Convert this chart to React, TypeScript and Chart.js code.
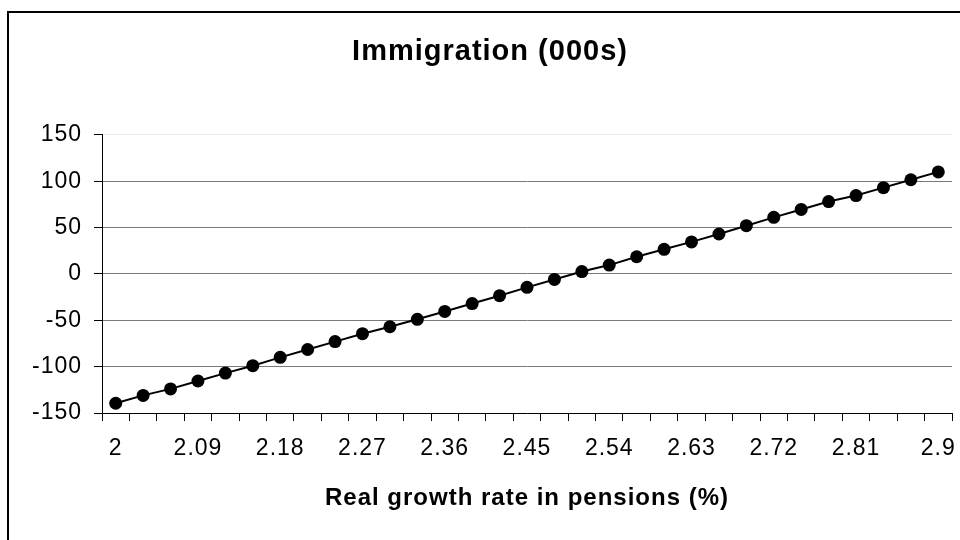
import React, { useEffect, useRef } from "react";
import { Chart, registerables } from "chart.js";

Chart.register(...registerables);

const categories: string[] = [
  "2", "2.03", "2.06", "2.09", "2.12", "2.15", "2.18", "2.21", "2.24", "2.27", "2.3",
  "2.33", "2.36", "2.39", "2.42", "2.45", "2.48", "2.51", "2.54", "2.57", "2.6",
  "2.63", "2.66", "2.69", "2.72", "2.75", "2.78", "2.81", "2.84", "2.87", "2.9",
];

const immigration: number[] = [
  -139.5, -131, -124, -115.5, -107, -99, -90, -81.5, -73, -64.5, -57,
  -49, -40.5, -32, -23.5, -14.5, -6, 2.5, 9.5, 18.5, 26.5,
  34.5, 43, 52, 61, 69.5, 78, 84.5, 93, 101.5, 110,
];

const shownTickLabels: string[] = [
  "2", "2.09", "2.18", "2.27", "2.36", "2.45", "2.54", "2.63", "2.72", "2.81", "2.9",
];

const yMin = -150;
const yMax = 150;
const yStep = 50;

const titleText = "Immigration (000s)";
const xTitleText = "Real growth rate in pensions (%)";

const FONT = "'Liberation Sans', Arial, Helvetica, sans-serif";

const spacingPlugin = {
  id: "letterSpacing",
  beforeUpdate(chart: any) {
    chart.ctx.letterSpacing = "1px";
  },
  beforeLayout(chart: any) {
    chart.ctx.letterSpacing = "1px";
  },
  beforeDraw(chart: any) {
    chart.ctx.letterSpacing = "1px";
  },
};

export default function App() {
  const ref = useRef<HTMLCanvasElement | null>(null);

  useEffect(() => {
    if (!ref.current) return;
    const chart = new Chart(ref.current, {
      type: "line",
      data: {
        labels: categories,
        datasets: [
          {
            label: "Immigration",
            data: immigration,
            borderColor: "#000000",
            backgroundColor: "#000000",
            borderWidth: 2,
            pointRadius: 6.5,
            pointBackgroundColor: "#000000",
            pointBorderColor: "#000000",
            pointBorderWidth: 0,
            tension: 0,
          },
        ],
      },
      plugins: [spacingPlugin],
      options: {
        responsive: false,
        animation: false,
        layout: { padding: { left: 28, right: 8, top: 0, bottom: 0 } },
        plugins: {
          legend: { display: false },
          tooltip: { enabled: false },
          title: {
            display: true,
            text: titleText,
            color: "#000000",
            font: { family: FONT, size: 29, weight: "bold" },
            padding: { top: 35, bottom: 65 },
          },
        },
        scales: {
          x: {
            type: "category",
            offset: true,
            border: { display: true, color: "#000000", width: 1 },
            grid: {
              display: true,
              offset: true,
              drawOnChartArea: false,
              drawTicks: true,
              tickLength: 8,
              tickColor: "#000000",
            },
            ticks: {
              autoSkip: false,
              maxRotation: 0,
              minRotation: 0,
              padding: 14,
              color: "#000000",
              font: { family: FONT, size: 23 },
              callback: function (_v: any, index: number) {
                const lab = categories[index];
                return shownTickLabels.includes(lab) ? lab : "";
              },
            },
            title: {
              display: true,
              text: xTitleText,
              color: "#000000",
              font: { family: FONT, size: 24, weight: "bold" },
              padding: { top: 0, bottom: 27 },
            },
            afterFit: (scale: any) => {
              scale.height = 127;
              scale.paddingLeft = 0;
              scale.paddingRight = 0;
            },
          },
          y: {
            min: yMin,
            max: yMax,
            border: { display: true, color: "#000000", width: 1 },
            grid: {
              color: (ctx: any) => (ctx.tick && ctx.tick.value === yMax ? "#ececec" : "#7a7a7a"),
              lineWidth: 1,
              drawTicks: true,
              tickLength: 8,
              tickColor: "#000000",
            },
            ticks: {
              stepSize: yStep,
              padding: 12,
              color: "#000000",
              font: { family: FONT, size: 23 },
            },
            afterFit: (scale: any) => {
              scale.width = 74;
            },
          },
        },
      },
    });
    return () => chart.destroy();
  }, []);

  return (
    <div
      style={{
        position: "fixed",
        left: 0,
        top: 0,
        width: 960,
        height: 540,
        overflow: "hidden",
        background: "#ffffff",
      }}
    >
      <div
        style={{
          position: "absolute",
          left: 7,
          top: 11,
          width: 2000,
          height: 2000,
          borderLeft: "2px solid #000000",
          borderTop: "2px solid #000000",
        }}
      />
      <canvas
        ref={ref}
        width={960}
        height={540}
        style={{ position: "absolute", left: 0, top: 0, width: 960, height: 540 }}
      />
    </div>
  );
}
